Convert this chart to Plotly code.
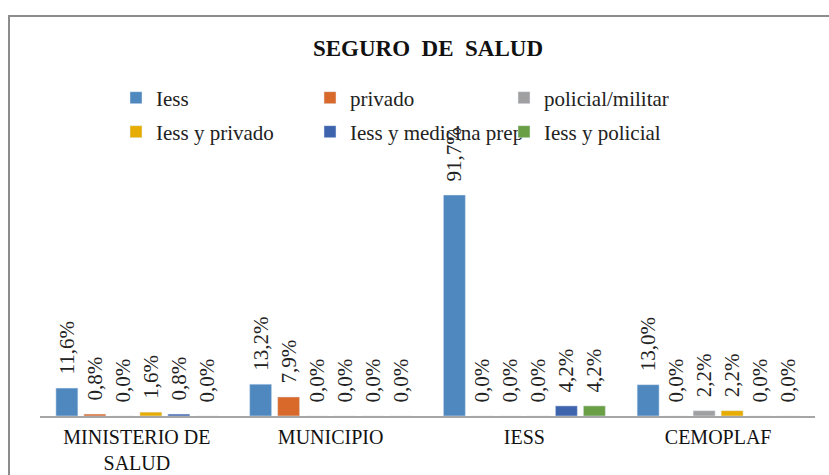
import plotly.graph_objects as go

categories = ["MINISTERIO DE<br>SALUD", "MUNICIPIO", "IESS", "CEMOPLAF"]
series_names = ["Iess", "privado", "policial/militar",
                "Iess y privado", "Iess y medicina prep", "Iess y policial"]
iess = [11.6, 13.2, 91.7, 13.0]
privado = [0.8, 7.9, 0.0, 0.0]
policial_militar = [0.0, 0.0, 0.0, 2.2]
iess_y_privado = [1.6, 0.0, 0.0, 2.2]
iess_y_medicina = [0.8, 0.0, 4.2, 0.0]
iess_y_policial = [0.0, 0.0, 4.2, 0.0]
series_values = [iess, privado, policial_militar, iess_y_privado, iess_y_medicina, iess_y_policial]
colors = ["#4F88BF", "#D9692B", "#A0A0A0", "#E6AC00", "#3E64AE", "#6A9F45"]
legends = ["legend", "legend", "legend", "legend2", "legend2", "legend2"]

SERIF = "Liberation Serif"


def fmt(v):
    return "\u00a0\u00a0" + f"{v:.1f}".replace(".", ",") + "%"


fig = go.Figure()
for name, vals, col, lg in zip(series_names, series_values, colors, legends):
    fig.add_trace(go.Bar(
        x=categories, y=vals, name=name, marker_color=col,
        text=[fmt(v) for v in vals], textposition="outside", textangle=-90,
        constraintext="none",
        textfont=dict(family=SERIF, size=21, color="#222222"),
        cliponaxis=False, legend=lg,
    ))

L, R, T, B = 40, 14, 175, 59
W, H = 829, 475
pw, ph = W - L - R, H - T - B


def px_x(x):
    return (x - L) / pw


def px_y(y):
    return (H - B - y) / ph


legend_common = dict(
    orientation="h", xref="paper", yref="paper", xanchor="left", yanchor="middle",
    entrywidth=149, entrywidthmode="pixels", bgcolor="rgba(0,0,0,0)",
    font=dict(family=SERIF, size=21, color="#222222"),
    itemwidth=30, tracegroupgap=0,
)

fig.update_layout(
    width=W, height=H,
    margin=dict(l=L, r=R, t=T, b=B, autoexpand=False),
    paper_bgcolor="white", plot_bgcolor="white",
    barmode="group", bargap=0.133, bargroupgap=0.214,
    title=dict(text="<b>SEGURO  DE  SALUD</b>", x=428 / W, xanchor="center",
               y=1 - 48 / H, yanchor="middle",
               font=dict(family=SERIF, size=23, color="#111111")),
    legend=dict(x=px_x(116), y=px_y(98), **legend_common),
    legend2=dict(x=px_x(116), y=px_y(132), **legend_common),
    xaxis=dict(showline=True, linecolor="#A6A6A6", linewidth=2, ticks="", showgrid=False,
               ticklabelstandoff=2,
               tickfont=dict(family=SERIF, size=20, color="#111111")),
    yaxis=dict(range=[0, 100], visible=False),
    shapes=[dict(type="rect", xref="paper", yref="paper",
                 x0=px_x(9), y0=px_y(490), x1=px_x(845), y1=px_y(16),
                 line=dict(color="#8C8C8C", width=2), layer="below")],
)

fig.write_html("out.html", config={"displayModeBar": False},
               post_script="document.body.style.margin='0';document.body.style.overflow='hidden';")
